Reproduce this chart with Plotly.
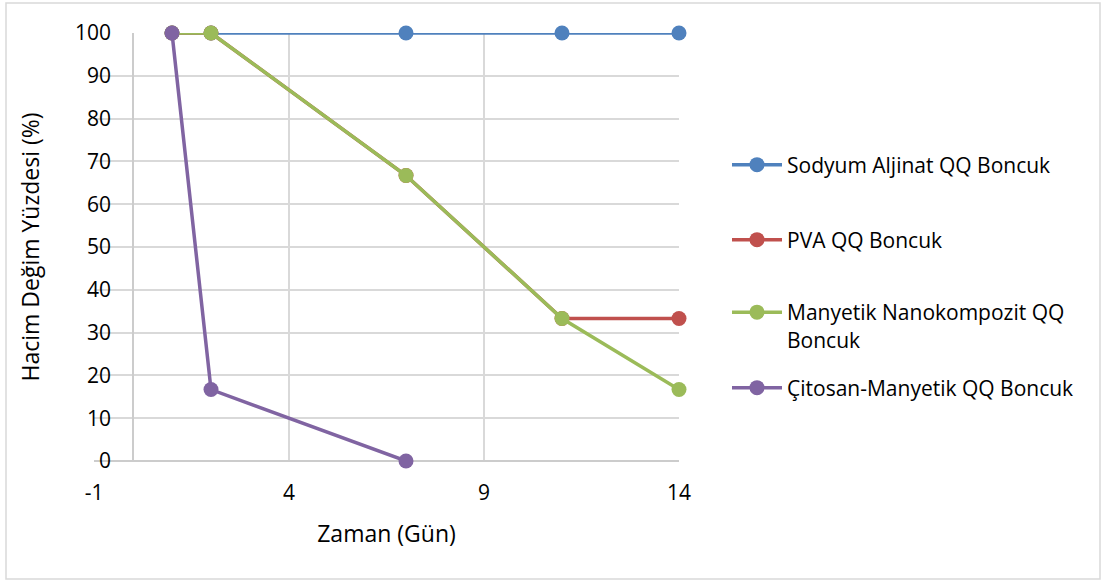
import plotly.graph_objects as go

# Measurement days
days = [1, 2, 7, 11, 14]
citosan_days = [1, 2, 7]

# Volume change percentages per bead type
sodyum_aljinat = [100, 100, 100, 100, 100]
pva = [100, 100, 66.7, 33.3, 33.3]
manyetik_nano = [100, 100, 66.7, 33.3, 16.7]
citosan_manyetik = [100, 16.7, 0]

series_names = [
    "Sodyum Aljinat QQ Boncuk",
    "PVA QQ Boncuk",
    "Manyetik Nanokompozit QQ<br>Boncuk",
    "Çitosan-Manyetik QQ Boncuk",
]
colors = ["#4F81BD", "#C0504D", "#9BBB59", "#8064A2"]

x_ticks = [-1, 4, 9, 14]
x_tick_text = ["-1", "4", "9", "14"]
y_ticks = [0, 10, 20, 30, 40, 50, 60, 70, 80, 90, 100]

FONT = "Open Sans"
W, H = 1103, 581
L, R, T, B = 94, 424, 33, 120
PW, PH = W - L - R, H - T - B


def px_to_paper_x(p):
    return (p - L) / PW


def px_to_paper_y(p):
    return 1 - (p - T) / PH


legend_ids = ["legend", "legend2", "legend3", "legend4"]
legend_rows = [165, 240, 313, 388]  # first-line centres of legend entries

fig = go.Figure()
for name, xs, ys, c, lg in zip(
    series_names,
    [days, days, days, citosan_days],
    [sodyum_aljinat, pva, manyetik_nano, citosan_manyetik],
    colors,
    legend_ids,
):
    fig.add_trace(go.Scatter(
        x=xs, y=ys, name=name, legend=lg,
        mode="lines+markers",
        line=dict(color=c, width=3.5),
        marker=dict(color=c, size=15),
        cliponaxis=False,
    ))

# Outer chart frame
fig.add_shape(
    type="rect", xref="paper", yref="paper",
    x0=px_to_paper_x(6), x1=px_to_paper_x(1100),
    y0=px_to_paper_y(579), y1=px_to_paper_y(3),
    line=dict(color="#D9D9D9", width=1.5), layer="below",
)

legend_style = dict(
    font=dict(size=21), valign="top", bgcolor="rgba(0,0,0,0)",
    itemwidth=50, xanchor="left", yanchor="middle",
)
legend_x = px_to_paper_x(727)
legends = {}
for lg, row in zip(legend_ids, legend_rows):
    legends[lg] = dict(legend_style, x=legend_x, y=px_to_paper_y(row))
# multi-line entry anchors on its first line
legends["legend3"] = dict(legend_style, x=legend_x,
                          y=px_to_paper_y(313 - 21), yanchor="top")

fig.update_layout(
    width=W, height=H,
    margin=dict(l=L, r=R, t=T, b=B),
    paper_bgcolor="white", plot_bgcolor="white",
    font=dict(family=FONT, size=21, color="#000000"),
    xaxis=dict(
        range=[-1, 14], tickvals=x_ticks, ticktext=x_tick_text,
        showgrid=True, gridcolor="#D9D9D9", gridwidth=2,
        zeroline=True, zerolinecolor="#CCCCCC", zerolinewidth=2,
        showline=False, ticks="", ticklabelstandoff=17,
        tickfont=dict(size=21),
        title=dict(text="Zaman (Gün)", font=dict(size=23), standoff=20),
    ),
    yaxis=dict(
        range=[0, 100], tickvals=y_ticks,
        showgrid=True, gridcolor="#D9D9D9", gridwidth=2,
        zeroline=True, zerolinecolor="#CCCCCC", zerolinewidth=2,
        showline=False, ticks="", ticklabelstandoff=-18,
        tickfont=dict(size=21),
        title=dict(text="Hacim Değim Yüzdesi (%)", font=dict(size=23), standoff=28),
    ),
    showlegend=True,
    **legends,
)

fig.write_html("out.html")
